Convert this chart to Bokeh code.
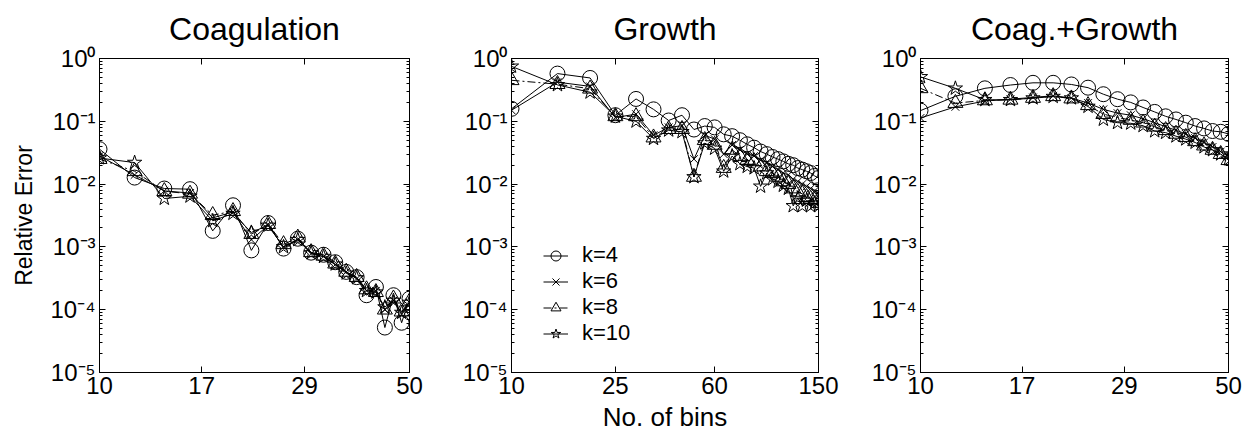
from bokeh.plotting import figure
from bokeh.layouts import row
from bokeh.models import (FixedTicker, LogAxis, CustomJSTickFormatter, Range1d,
                          Legend, LegendItem)
from bokeh.embed import file_html
from bokeh.resources import INLINE

FONT = "Liberation Sans"

# ---------------- data ----------------
bins_coag = [10, 12, 14, 16, 18, 20, 22, 24, 26, 28, 30, 32, 34, 36, 38, 40, 42, 44, 46, 48, 50]
bins_growth = [10, 15, 20, 25, 30, 35, 40, 45, 50, 55, 60, 65, 70, 75, 80, 85, 90, 95, 100,
               105, 110, 115, 120, 125, 130, 135, 140, 145, 150]
bins_both = [10, 12, 14, 16, 18, 20, 22, 24, 26, 28, 30, 32, 34, 36, 38, 40, 42, 44, 46, 48, 50]

coag_k4 = [0.036, 0.0127, 0.0085, 0.0083, 0.0018, 0.0046, 0.00088, 0.0024, 0.00094, 0.00135, 0.00081,
           0.00075, 0.00057, 0.0004, 0.00033, 0.00017, 0.00023, 0.000052, 0.00017, 0.000062, 0.00015]
coag_k6 = [0.028, 0.014, 0.0078, 0.0072, 0.0029, 0.0036, 0.0013, 0.0022, 0.0010, 0.0013, 0.00078,
           0.0007, 0.00052, 0.0004, 0.00031, 0.0002, 0.0002, 0.0001, 0.00014, 0.000085, 0.00013]
coag_k8 = [0.025, 0.016, 0.0077, 0.007, 0.0032, 0.0037, 0.0016, 0.0023, 0.0011, 0.0014, 0.00082,
           0.00072, 0.00054, 0.0004, 0.00033, 0.00021, 0.00019, 0.0001, 0.00015, 0.000093, 0.000135]
coag_k10 = [0.026, 0.022, 0.0059, 0.0064, 0.0026, 0.0034, 0.0017, 0.0022, 0.001, 0.0013, 0.0008,
            0.0007, 0.00053, 0.00038, 0.00032, 0.0002, 0.00019, 0.00011, 0.00014, 0.00009, 0.00013]

growth_k4 = [0.158, 0.575, 0.49, 0.125, 0.227, 0.155, 0.103, 0.125, 0.074, 0.084, 0.08, 0.062, 0.058,
             0.05, 0.043, 0.038, 0.033, 0.03, 0.027, 0.025, 0.023, 0.021, 0.02, 0.018, 0.017, 0.016,
             0.015, 0.0135, 0.0125]
growth_k6 = [0.15, 0.42, 0.36, 0.115, 0.13, 0.06, 0.08, 0.085, 0.025, 0.06, 0.052, 0.03, 0.042, 0.035,
             0.03, 0.028, 0.024, 0.022, 0.019, 0.017, 0.015, 0.014, 0.012, 0.011, 0.01, 0.0092, 0.0085,
             0.0078, 0.0072]
growth_k8 = [0.45, 0.39, 0.33, 0.12, 0.12, 0.055, 0.075, 0.075, 0.013, 0.05, 0.042, 0.018, 0.035, 0.028,
             0.024, 0.023, 0.019, 0.016, 0.015, 0.013, 0.011, 0.010, 0.0085, 0.0075, 0.007, 0.0062,
             0.0058, 0.0055, 0.005]
growth_k10 = [0.75, 0.38, 0.29, 0.12, 0.10, 0.053, 0.072, 0.068, 0.013, 0.045, 0.037, 0.016, 0.028,
              0.021, 0.019, 0.018, 0.0092, 0.015, 0.012, 0.011, 0.0095, 0.0085, 0.0045, 0.006, 0.0045,
              0.0055, 0.0045, 0.005, 0.0045]

both_k4 = [0.148, 0.25, 0.335, 0.378, 0.41, 0.41, 0.386, 0.343, 0.27, 0.225, 0.2, 0.166, 0.141, 0.12,
           0.107, 0.095, 0.084, 0.077, 0.07, 0.068, 0.063]
both_k6 = [0.113, 0.17, 0.21, 0.225, 0.24, 0.255, 0.235, 0.195, 0.155, 0.135, 0.125, 0.11, 0.095, 0.082,
           0.072, 0.063, 0.054, 0.046, 0.039, 0.033, 0.028]
both_k8 = [0.335, 0.195, 0.215, 0.22, 0.235, 0.25, 0.23, 0.18, 0.13, 0.115, 0.105, 0.095, 0.082, 0.072,
           0.063, 0.056, 0.048, 0.041, 0.035, 0.03, 0.024]
both_k10 = [0.51, 0.335, 0.22, 0.22, 0.234, 0.247, 0.234, 0.172, 0.107, 0.095, 0.093, 0.085, 0.07,
            0.066, 0.058, 0.052, 0.046, 0.039, 0.035, 0.03, 0.025]

labels = ["k=4", "k=6", "k=8", "k=10"]
xticks_coag = [10, 17, 29, 50]
xticks_growth = [10, 25, 60, 150]
yticks = [1e-5, 1e-4, 1e-3, 1e-2, 1e-1, 1e0]
titles = ["Coagulation", "Growth", "Coag.+Growth"]

# ---------------- styling ----------------
markers = ["circle", "x", "triangle", "star"]
msizes = [15, 11, 15, 15]
dashes = ["solid", "solid", "8 3 2 3", "solid"]

yminor = [m * 10.0 ** e for e in range(-5, 0) for m in range(2, 10)]

sup_code = r"""
const s = {"-":"\u207B","0":"\u2070","1":"\u00B9","2":"\u00B2","3":"\u00B3","4":"\u2074",
           "5":"\u2075","6":"\u2076","7":"\u2077","8":"\u2078","9":"\u2079"};
const e = Math.round(Math.log10(tick));
return "10" + String(e).split("").map(c => s[c]).join("");
"""


def style_axis(ax, tick_font="24px"):
    ax.major_tick_in = 6
    ax.major_tick_out = 0
    ax.minor_tick_in = 3
    ax.minor_tick_out = 0
    ax.axis_line_color = "black"
    ax.major_tick_line_color = "black"
    ax.minor_tick_line_color = "black"
    ax.major_label_text_font = FONT
    ax.major_label_text_font_size = tick_font
    ax.major_label_text_color = "black"
    ax.major_label_standoff = 4


def make_fig(xs, ys_list, xticks, xmax, title, width, left, right,
             ylabel=None, xlabel=None, legend=False):
    p = figure(width=width, height=435, x_axis_type="log", y_axis_type="log",
               x_range=Range1d(10, xmax), y_range=Range1d(1e-5, 1),
               toolbar_location=None, output_backend="svg",
               min_border_left=left, min_border_right=right,
               min_border_top=53, min_border_bottom=63)
    p.background_fill_color = "white"
    p.border_fill_color = "white"
    p.outline_line_color = "black"
    p.outline_line_width = 1
    p.xgrid.visible = False
    p.ygrid.visible = False

    p.title.text = title
    p.title.align = "center"
    p.title.vertical_align = "top"
    p.title.text_font = FONT
    p.title.text_font_size = "32px"
    p.title.text_font_style = "normal"
    p.title.text_color = "black"
    p.title.standoff = 20

    xt = FixedTicker(ticks=xticks, minor_ticks=[])
    yt = FixedTicker(ticks=yticks, minor_ticks=yminor)
    fmt = CustomJSTickFormatter(code=sup_code)

    p.xaxis.ticker = xt
    p.yaxis.ticker = yt
    p.yaxis.formatter = fmt
    style_axis(p.xaxis[0])
    style_axis(p.yaxis[0])

    if ylabel:
        p.yaxis.axis_label = ylabel
        p.yaxis.axis_label_text_font = FONT
        p.yaxis.axis_label_text_font_size = "23px"
        p.yaxis.axis_label_text_font_style = "normal"
        p.yaxis.axis_label_text_color = "black"
        p.yaxis.axis_label_standoff = 10
    if xlabel:
        p.xaxis.axis_label = xlabel
        p.xaxis.axis_label_text_font = FONT
        p.xaxis.axis_label_text_font_size = "26px"
        p.xaxis.axis_label_text_font_style = "normal"
        p.xaxis.axis_label_text_color = "black"
        p.xaxis.axis_label_standoff = 5

    # mirrored tick-only axes (box with ticks on all sides)
    top = LogAxis(ticker=FixedTicker(ticks=xticks, minor_ticks=[]))
    right_ax = LogAxis(ticker=FixedTicker(ticks=yticks, minor_ticks=yminor))
    for ax in (top, right_ax):
        style_axis(ax)
        ax.major_label_text_font_size = "2px"
        ax.major_label_text_color = None
        ax.major_label_standoff = 0
    p.add_layout(top, "above")
    p.add_layout(right_ax, "right")

    items = []
    for ys, mk, ms, dash, lab in zip(ys_list, markers, msizes, dashes, labels):
        lr = p.line(xs, ys, line_color="black", line_width=1, line_dash=dash)
        sr = p.scatter(xs, ys, marker=mk, size=ms, line_color="black", line_width=1,
                       fill_color=None)
        items.append(LegendItem(label=lab, renderers=[lr, sr]))

    if legend:
        lg = Legend(items=items, location=(32, 26))
        lg.border_line_color = None
        lg.background_fill_alpha = 0
        lg.label_text_font = FONT
        lg.label_text_font_size = "22px"
        lg.label_text_color = "black"
        lg.label_height = 25
        lg.glyph_height = 25
        lg.glyph_width = 25
        lg.spacing = 0
        lg.padding = 2
        lg.margin = 0
        lg.label_standoff = 14
        p.add_layout(lg, "center")
    return p


p1 = make_fig(bins_coag, [coag_k4, coag_k6, coag_k8, coag_k10], xticks_coag, 50,
              titles[0], 459, 99, 50, ylabel="Relative Error")
p2 = make_fig(bins_growth, [growth_k4, growth_k6, growth_k8, growth_k10], xticks_growth, 150,
              titles[1], 409, 50, 50, xlabel="No. of bins", legend=True)
p3 = make_fig(bins_both, [both_k4, both_k6, both_k8, both_k10], xticks_coag, 50,
              titles[2], 385, 50, 25)

layout = row(p1, p2, p3)
open("out.html", "w").write(file_html(layout, INLINE))
